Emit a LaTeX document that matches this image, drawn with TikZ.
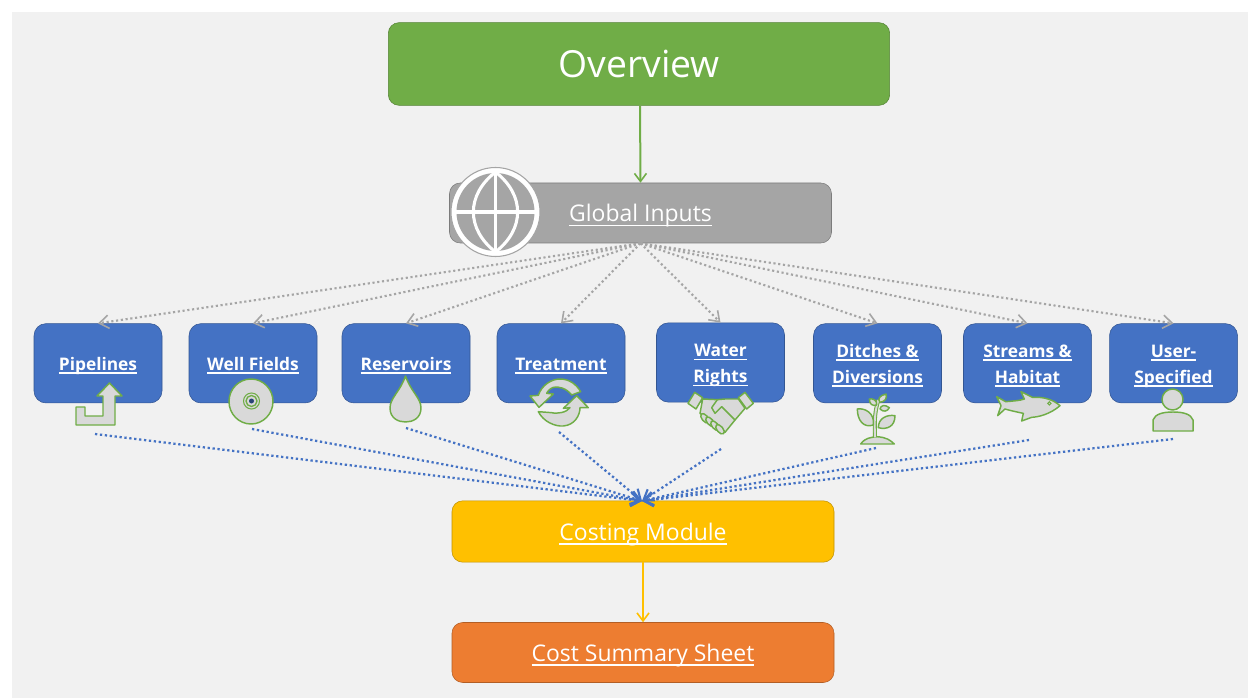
\documentclass[tikz,border=0pt]{standalone}
\usepackage{fontspec}
\setmainfont{Open Sans}
\usetikzlibrary{arrows.meta}
\definecolor{panel}{HTML}{F1F1F1}
\definecolor{ogreen}{HTML}{70AD47}
\definecolor{oblue}{HTML}{4472C4}
\definecolor{ogold}{HTML}{FFC000}
\definecolor{oorange}{HTML}{ED7D31}
\definecolor{ogray}{HTML}{A5A5A5}
\definecolor{iconfill}{HTML}{D9D9D9}
\tikzset{
 bigbox/.style={draw=#1!75!black,fill=#1,rounded corners=8pt,minimum width=286.5pt,minimum height=46pt,text=white,font=\fontsize{17.2}{20}\selectfont,inner sep=0pt},
 modbox/.style={draw=oblue!75!black,fill=oblue,rounded corners=9pt,minimum width=96pt,minimum height=59.5pt,text=white,font=\fontsize{13}{19.5}\selectfont\bfseries,align=center,inner sep=0pt},
 grayarrow/.style={draw=ogray,line width=1.6pt,dotted,-{Straight Barb[length=7pt,width=10pt,line width=1.2pt]}},
 bluearrow/.style={draw=oblue,line width=1.7pt,dotted,-{Straight Barb[length=7pt,width=10pt,line width=1.6pt]}},
 icon/.style={draw=ogreen,fill=iconfill,line width=1.1pt,line join=round},
 zoomed/.style={x=.25pt,y=-.25pt},
}
\newcommand{\ulm}[1]{\setbox0\hbox{#1}\rule[-.35em]{0pt}{1.5em}\rlap{\rule[-.2em]{\wd0}{.07em}}\box0}
\newcommand{\ulb}[1]{\setbox0\hbox{#1}\rule[-.2em]{0pt}{1.2em}\rlap{\rule[-.2em]{\wd0}{.06em}}\box0}
\begin{document}
\begin{tikzpicture}[x=0.75pt,y=-0.75pt]
\useasboundingbox (0,0) rectangle (1248,698);
\fill[white] (0,0) rectangle (1248,698);
\fill[panel] (12,12) rectangle (1248,698);
\node[bigbox=ogreen,minimum width=376pt,minimum height=62pt,font=\fontsize{28}{32}\selectfont] (overview) at (639,64) {Overview};
\node[bigbox=ogray,minimum height=45pt] (global) at (640.5,213) {\ulb{Global Inputs}};
\node[bigbox=ogold] (cost) at (643,531.5) {\ulb{Costing Module}};
\node[bigbox=oorange,minimum height=45pt] (sum) at (643,652.5) {\ulb{Cost Summary Sheet}};
\node[modbox] (m1) at (98,363.3) {\ulm{Pipelines}};
\node[modbox] (m2) at (253,363.3) {\ulm{Well Fields}};
\node[modbox] (m3) at (406,363.3) {\ulm{Reservoirs}};
\node[modbox] (m4) at (561,363.3) {\ulm{Treatment}};
\node[modbox] (m5) at (720.5,362.5) {\ulm{Water}\\\ulm{Rights}};
\node[modbox] (m6) at (877.5,363.3) {\ulm{Ditches \&}\\\ulm{Diversions}};
\node[modbox] (m7) at (1027.5,363.3) {\ulm{Streams \&}\\\ulm{Habitat}};
\node[modbox] (m8) at (1173.5,363.3) {\ulm{User-}\\\ulm{Specified}};
% globe
\coordinate (gc) at (495.5,212);
\fill[white] (gc) circle[radius=44.5];
\draw[ogray,line width=.8pt] (gc) circle[radius=44.5];
\fill[ogray] (gc) circle[radius=39];
\begin{scope}[draw=white,line width=2.3pt]
\draw (495.5,172) .. controls (466,195) and (466,229) .. (495.5,252);
\draw (495.5,172) .. controls (525,195) and (525,229) .. (495.5,252);
\draw (495.5,172) -- (495.5,252);
\draw (455.5,212) -- (535.5,212);
\end{scope}
% arrows
\draw[draw=ogreen,line width=1.5pt,-{Straight Barb[length=6pt,width=9pt,line width=1.2pt]}] (overview.south) ++(1,0) coordinate (o1) -- (global.north);
\draw[draw=ogold,line width=1.5pt,-{Straight Barb[length=6pt,width=9pt,line width=1.2pt]}] (cost.south) -- (sum.north);
\foreach \m in {m1,m2,m3,m4,m5,m6,m7,m8}{\draw[grayarrow] (global.south) -- (\m.north);}
\coordinate (b1) at (95,434);
\coordinate (b2) at (252,429);
\coordinate (b3) at (406,428);
\coordinate (b4) at (559,432);
\coordinate (b5) at (721,449);
\coordinate (b6) at (876,448);
\coordinate (b7) at (1029,440);
\coordinate (b8) at (1173,439);
\coordinate (bt) at (642,501);
\foreach \i in {1,...,8}{\draw[bluearrow] (b\i) -- (bt);}
% pipelines icon
\path[icon] (109.5,383) -- (122,396) -- (115,396) -- (115,425) -- (76,425) -- (76,407) -- (85,407) -- (85,416) -- (103,416) -- (103,396) -- (97,396) -- cycle;
% well icon
\path[icon] (251,401.5) circle[x radius=22,y radius=22.5];
\draw[ogreen,line width=.8pt] (251.5,401) circle[radius=8];
\draw[ogreen,line width=1pt] (251.5,401) circle[radius=5.5];
\fill[oblue!60!black] (251.5,401) circle[radius=2.5];
% drop
\path[icon] (405.5,376) .. controls (400,392) and (390,398) .. (390,408) .. controls (390,418) and (398,422) .. (405.5,422) .. controls (413,422) and (421,418) .. (421,408) .. controls (421,398) and (411,392) .. (405.5,376) -- cycle;
% recycle
\begin{scope}[shift={(520,370)},zoomed]
\path[icon] (30,78) -- (55,76) .. controls (65,45) and (95,27) .. (120,27) .. controls (150,27) and (170,45) .. (182,65) -- (155,75) .. controls (140,55) and (115,48) .. (100,52) .. controls (90,55) and (82,65) .. (80,70) -- (100,72) -- (57,112) -- cycle;
\path[icon] (205,113) -- (170,77) -- (130,115) -- (150,113) .. controls (140,128) and (110,132) .. (95,128) -- (55,125) .. controls (70,155) and (105,170) .. (130,168) .. controls (165,165) and (180,135) .. (180,113) -- cycle;
\end{scope}
% handshake
\begin{scope}[shift={(680,385)},zoomed]
\path[icon] (44,22) -- (68,38) -- (48,72) -- (24,55) -- cycle;
\path[icon] (195,22) -- (220,55) -- (200,72) -- (175,38) -- cycle;
\path[icon] (68,42) -- (112,44) -- (135,42) -- (175,42) -- (195,70) -- (165,105) -- (135,142) -- (118,130) -- (60,85) -- cycle;
\draw[ogreen,line width=1.1pt,line join=round] (112,44) -- (95,68) -- (105,85) -- (125,65) -- (165,105);
\foreach \fx/\fy in {75/100,90/110,105/122,120/133}{\path[icon] (\fx,\fy) circle[x radius=17,y radius=9,rotate=-50];}
\end{scope}
% plant
\begin{scope}[shift={(840,385)},zoomed]
\path[icon] (62,177) .. controls (75,158) and (95,157) .. (110,155) .. controls (140,157) and (150,165) .. (163,177) -- cycle;
\draw[ogreen,line width=3pt] (105,157) .. controls (105,125) and (100,95) .. (115,45);
\draw[iconfill,line width=1.4pt] (105,157) .. controls (105,125) and (100,95) .. (115,45);
\path[icon] (52,72) .. controls (75,68) and (105,85) .. (100,120) .. controls (70,130) and (52,105) .. (52,72) -- cycle;
\path[icon] (165,92) .. controls (140,88) and (115,100) .. (115,128) .. controls (140,135) and (165,125) .. (165,92) -- cycle;
\path[icon] (138,27) .. controls (118,32) and (112,42) .. (120,52) .. controls (135,50) and (142,40) .. (138,27) -- cycle;
\path[icon] (88,42) .. controls (88,58) and (98,64) .. (110,60) .. controls (112,45) and (98,40) .. (88,42) -- cycle;
\path[icon] (148,68) .. controls (135,58) and (122,60) .. (120,72) .. controls (130,82) and (142,80) .. (148,68) -- cycle;
\end{scope}
% fish
\begin{scope}[shift={(985,385)},zoomed]
\path[icon] (35,35) -- (62,50) .. controls (85,48) and (105,47) .. (118,42) -- (108,20) -- (142,37) .. controls (180,35) and (205,45) .. (225,62) .. controls (195,88) and (160,96) .. (140,97) -- (110,108) -- (115,85) .. controls (90,80) and (70,75) .. (60,72) -- (38,92) -- (48,62) -- cycle;
\draw[ogreen,line width=.8pt] (193,55) circle[radius=5];
\end{scope}
% person
\path[icon] (1172.5,399.5) circle[radius=10.5];
\path[icon] (1153,431) -- (1153,420) .. controls (1155,414) and (1163,412) .. (1173,412) .. controls (1183,412) and (1191,414) .. (1193,420) -- (1193,431) -- cycle;
\end{tikzpicture}
\end{document}
